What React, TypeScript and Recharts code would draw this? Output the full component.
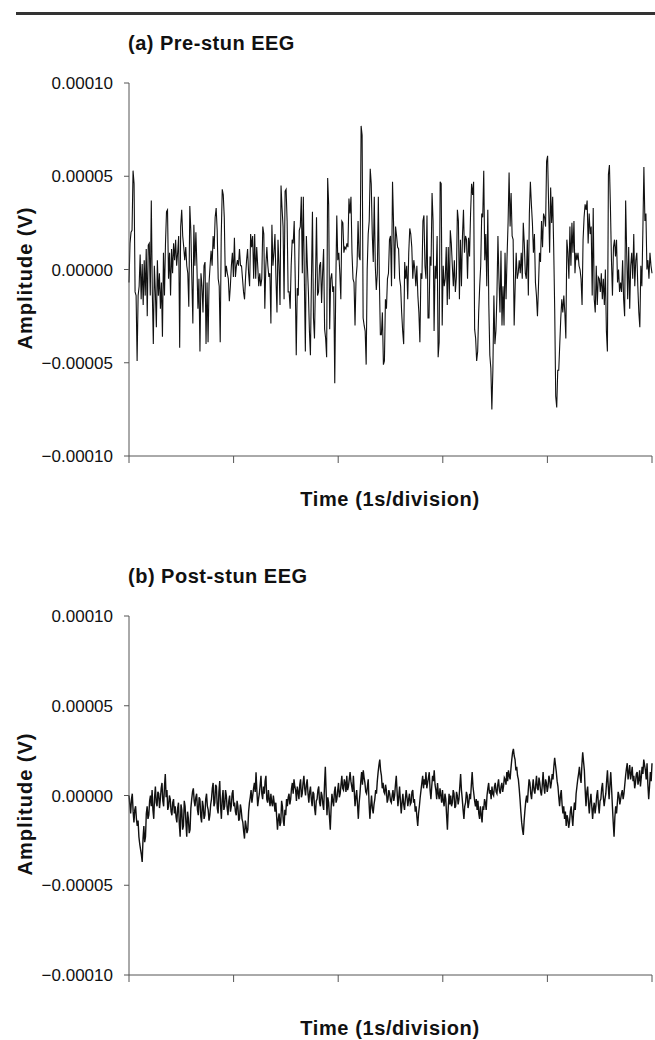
import React from 'react';
import { LineChart, Line, XAxis, YAxis } from 'recharts';

// amplitudes in microvolts left to right
const preStunUv = [
  -7, 14, 20, 21, 53, 46, -12, -14, -49, -14, -9, 8, -16, 3, -19, 5, -14, 11, -25, 13, 14, -14, 37, -12, -40, 2, -12, -31, 5, -14,
  -2, -21, -7, -36, 9, -14, 14, 31, 32, -5, 9, -14, 11, -2, 14, 5, 16, 2, 9, 18, -42, 23, 32, 18, 12, 5, 12, 2, -2, -20,
  34, 21, -5, -29, 24, 2, 20, 2, -21, -5, -44, -2, -9, -23, 2, 4, -40, -7, -39, -7, 2, 10, 2, 18, 11, 28, 33, 21, -5, -9,
  -39, 18, 43, 40, 28, -4, 2, -2, -5, -17, -9, 2, 9, -4, 17, -4, 2, 5, 2, 11, 2, 2, -5, -12, -16, -4, 5, 11, -2, -9,
  19, 12, 18, -5, 19, -5, 12, 2, -9, -2, -9, -5, 23, 19, -21, 2, 12, 2, -4, -2, -29, 24, 2, 9, 19, -5, -23, 16, 2, -19,
  45, 33, 23, -16, 42, 43, 26, -12, -12, -21, 2, 16, 14, 26, -5, -46, -10, -14,
  21, 23, 39, -2, 39, -5, -44, 18, 2, -12, -33, -46, -5, 31, -26, -37, -5, 28, -14, -12, 2, 4, -18, -2, 11, -32, -37, -47, 49, 35,
  -32, -5, -2, -12, -9, -61, -9, 29, 5, 9, -2, -16, 26, 25, 9, 12, 11, 14, 12, 38, 30, 39, 9, -5, -7, -30, -5, 2, 26, 7,
  5, 77, 72, -26, -30, -33, -51, 0, 19, 26, 54, 46, 19, 4, 39, 2, -11, -2, 39, -5, -35, -35, -23, -51, -49, -16, -21, -5, -2, 16,
  18, -9, 47, 25, -5, 23, 18, 12, 11, -5, -9, -23, -33, -40, 4, -5, 2, -16, 9, 22, 19, 12, -5, 5, 0, -9, 2, -14, -23, -39,
  -2, -5, 26, 29, 2, -5, 29, -26, -26, 7, 2, 41, 26, -33, 2, -5, 18, -47, -39, 47, 46, -30, 2, -9, -5, 12, -19, 12, -16, 21,
  14, 2, -9, 5, -12, -4, 32, 26, -16, 16, -9, 18, 32, 9, 18, 16, -5,
  17, 7, 30, 46, 40, 47, -32, -37, -49, -44, -23, -9, 2, 30, 28, 53, 5, 19, -9, 32, -19, -46, -53, -75, -54, -14, -40, -33, -14, 18,
  -5, -23, 10, -30, -9, -30, 9, -16, 7, 25, 52, 23, 41, 18, 16, -30, -9, 9, -5, -2, 5, -2, 9, -5, 25, 14, -2, -5, 16, -14,
  30, 47, 35, 25, 9, 19, -7, -14, -25, -9, 9, 4, 26, 12, 30, 28, 23, 58, 61, 35, 9, 44, 25, 39, 12, -21, -68, -74, -54, -54,
  -40, -26, -16, -23, -14, -23, -37, 16, 9, -5, 23, 2, 25, 9, 26, -2, 9, 5, 9, 2, 0, -5, -19, 16, 28, 35, 32, 37, 14, 30,
  19, 23, -14, 33, -16, -23, 2, -19, -4, -5, -12, -2, -16, -5, -19, 0, -33, -44, 51, 56, 33, 5, -14, 12, 16, 7, 16, -7, 0, -12,
  -7, -12, 5, -16, -25, 37, 10, -16, 12, -21, 2, 9, -5, 19, -9, 5, 9, -9, -23, -31, 2, -9, 21, 55, 26, 30, 0, 5, -5, 9,
  2, -2,
];

const postStunUv = [
  0, -5, -10, -2, 1, -9, -15, -8, -6, -13, -17, -14, -23, -27, -30, -33, -37, -24, -17, -26,
  -23, -10, -6, -13, -11, -3, 0, -6, 3, -8, -13, -1, 5, -4, -6, 2, 1, -7, -2, 4,
  7, -3, -6, 5, 12, -1, 3, -8, -6, 0, -2, -9, -11, -4, -2, -10, -6, -12, -15, -7,
  -4, -16, -23, -5, -8, -19, -17, -3, -6, -15, -23, -9, -13, -21, -19, -7, -2, 2, 4, -3,
  -6, -1, 1, -8, -11, -1, -2, -12, -15, -3, -6, -13, -11, -2, 1, -6, -8, -14, -11, -5,
  -2, 4, 7, -6, -4, 6, 5, -7, -10, 2, 8, -6, -13, -2, 3, -8, -6, 3, 0, -7,
  -11, -3, 0, -9, -6, 1, 3, -6, -4, -9, -11, -3, -6, -14, -13, -5, -8, -13, -15, -20,
  -24, -14, -17, -21, -19, -9, -4, -1, 3, -4, 0, 4, 7, 2, 13, 3, -6, -2, 1, 6,
  11, 1, -2, 5, 1, 8, 11, -2, -4, 3, -2, -6, 1, -4, -6, 0, -4, -9, -4, -12,
  -19, -13, -10, -17, -15, -3, -6, -14, -17, -8, -11, -2, -6, -1, 1, -5, -2, 4, 7, 1,
  9, 5, 3, -3, 5, 2, -2, 6, 9, -1, 1, 7, 11, 4, 0, 6, 9, 1, -4, 2,
  5, -2, -6, 2, 1, -7, -11, -3, -2, 3, 5, -4, -6, 2, 0, -5, -8, 6, 16, 2,
  -11, -1, -4, -12, -19, -7, 1, -3, -6, 2, 5, -4, -2, 3, 7, -1, 1, 6, 11, 4,
  3, 9, 7, 2, 11, 3, 5, 9, 13, 8, 5, 2, 11, 3, -6, -1, 3, -5, -13, -4,
  1, 8, 13, 6, 14, 10, 7, 2, 1, 5, 9, -4, -13, -6, 0, -7, -10, -5, -2, 3,
  1, 8, 13, 17, 20, 14, 11, 4, 7, 2, 1, 6, 3, -4, -2, 3, 1, -3, -4, 0,
  3, -3, 0, 6, 11, 2, -6, -1, 5, -3, -10, -4, 1, -5, -8, -2, 3, -1, -6, -2,
  1, -5, -4, 2, 3, -4, -2, -9, -6, -12, -17, -10, -6, -1, 3, 7, 11, 4, 9, 6,
  13, 4, 7, 10, 13, 3, -2, 5, 11, 8, 14, 6, 3, -2, 7, 1, -2, 4, 0, -4,
  3, -3, -6, 1, -2, -11, -19, -7, 1, -5, 0, -6, -4, 3, 1, -7, -6, 2, 0, -5,
  -2, 5, 12, 3, -2, -8, -13, -6, -4, 2, 0, -7, -4, 1, -2, 6, 13, 5, 1, -3,
  -6, -2, -8, -3, -10, -13, -6, -11, -15, -6, -8, -2, -4, -8, 0, 4, 7, 1, 3, -2,
  5, 1, 0, 5, 7, 2, 1, 6, 9, 3, 1, 5, 7, 2, 5, 10, 9, 6, 13, 8,
  14, 11, 9, 15, 20, 24, 26, 22, 20, 14, 16, 11, 9, 4, -2, -9, -15, -19, -22, -14,
  -8, -3, 0, -4, 3, 9, 7, 1, -2, 4, 9, 3, 1, 6, 11, 4, 3, 10, 7, 2,
  0, 6, 13, 5, 1, 9, 7, 2, 5, 11, 9, 4, 7, 12, 9, 16, 21, 17, 13, 8,
  5, -1, -6, 0, 3, -5, -10, -6, -13, -9, -17, -11, -13, -18, -15, -9, -6, -12, -17, -9,
  -4, -8, 1, 5, 9, 12, 16, 10, 7, 17, 24, 19, 14, 3, -6, 2, 5, -4, -10, -3,
  1, -6, -13, -7, -4, -10, -6, 0, 3, -5, -10, -3, -2, 4, 7, -1, -6, -2, 1, 8,
  14, 5, -2, 6, 13, 4, -6, -15, -23, -12, -6, -10, -4, 2, 0, -5, -2, 1, 3, -2,
  1, 6, 11, 15, 18, 9, 13, 17, 9, 12, 16, 8, 11, 4, 7, 12, 13, 6, 9, 14,
  5, 10, 16, 12, 20, 17, 14, 9, 18, 6, -2, 5, 13, 8, 18,
];

const yTicks = [-100, -50, 0, 50, 100];
const yTickLabels = ['\u22120.00010', '\u22120.00005', '0.00000', '0.00005', '0.00010'];
const timeTicks = [0, 1, 2, 3, 4, 5];

const FONT = '"Liberation Sans", Arial, Helvetica, sans-serif';
const AXIS = '#555';

const toRows = (values: number[]) =>
  values.map((v, i) => ({ t: (i * 5) / (values.length - 1), v }));

const centered = (x: number, y: number, extra: React.CSSProperties = {}): React.CSSProperties => ({
  position: 'absolute',
  left: x,
  top: y,
  transform: 'translate(-50%, -50%)',
  whiteSpace: 'nowrap',
  lineHeight: 1,
  fontFamily: FONT,
  fontWeight: 700,
  color: '#111',
  ...extra,
});

interface PanelProps {
  title: string;
  values: number[];
  top: number;
  plotTop: number;
  plotBottom: number;
  height: number;
  strokeWidth: number;
  labelGap: number;
}

const Panel = ({ title, values, top, plotTop, plotBottom, height, strokeWidth, labelGap }: PanelProps) => {
  const data = toRows(values);
  return (
    <div style={{ position: 'absolute', left: 0, top, width: 655, height }}>
      <div style={{ position: 'absolute', left: 128, top: plotTop - 40, transform: 'translateY(-50%)', lineHeight: 1, fontFamily: FONT, fontWeight: 700, fontSize: 20, letterSpacing: 0.5, color: '#111', whiteSpace: 'nowrap' }}>
        {title}
      </div>
      <div style={centered(25, (plotTop + plotBottom) / 2 + 8, { fontSize: 20, letterSpacing: 1, transform: 'translate(-50%, -50%) rotate(-90deg)' })}>
        Amplitude (V)
      </div>
      <div style={centered(390, plotBottom + labelGap, { fontSize: 20, letterSpacing: 0.6 })}>
        Time (1s/division)
      </div>
      <LineChart width={655} height={height} data={data} margin={{ top: plotTop, right: 3, bottom: 0, left: 0 }}>
        <XAxis
          dataKey="t"
          type="number"
          domain={[0, 5]}
          ticks={timeTicks}
          tickFormatter={() => ''}
          stroke={AXIS}
          tickSize={7}
          height={height - plotBottom}
          interval={0}
        />
        <YAxis
          type="number"
          domain={[-100, 100]}
          ticks={yTicks}
          tickFormatter={(v: number) => yTickLabels[yTicks.indexOf(v)]}
          stroke={AXIS}
          tickSize={5}
          tickMargin={11}
          width={129}
          interval={0}
          tick={{ fill: '#111', fontSize: 17, fontFamily: FONT }}
        />
        <Line
          type="linear"
          dataKey="v"
          stroke="#111"
          strokeWidth={strokeWidth}
          dot={false}
          isAnimationActive={false}
        />
      </LineChart>
    </div>
  );
};

export default function App() {
  return (
    <div style={{ position: 'absolute', left: 0, top: 0, width: 655, height: 1040, background: '#fff', overflow: 'hidden' }}>
      <div style={{ position: 'absolute', left: 16, right: 0, top: 12, height: 3, background: '#333' }} />
      <Panel title="(a) Pre-stun EEG" values={preStunUv} top={0} plotTop={83} plotBottom={456} height={470} strokeWidth={1.1} labelGap={43} />
      <Panel title="(b) Post-stun EEG" values={postStunUv} top={540} plotTop={76} plotBottom={435} height={450} strokeWidth={1.4} labelGap={53} />
    </div>
  );
}
